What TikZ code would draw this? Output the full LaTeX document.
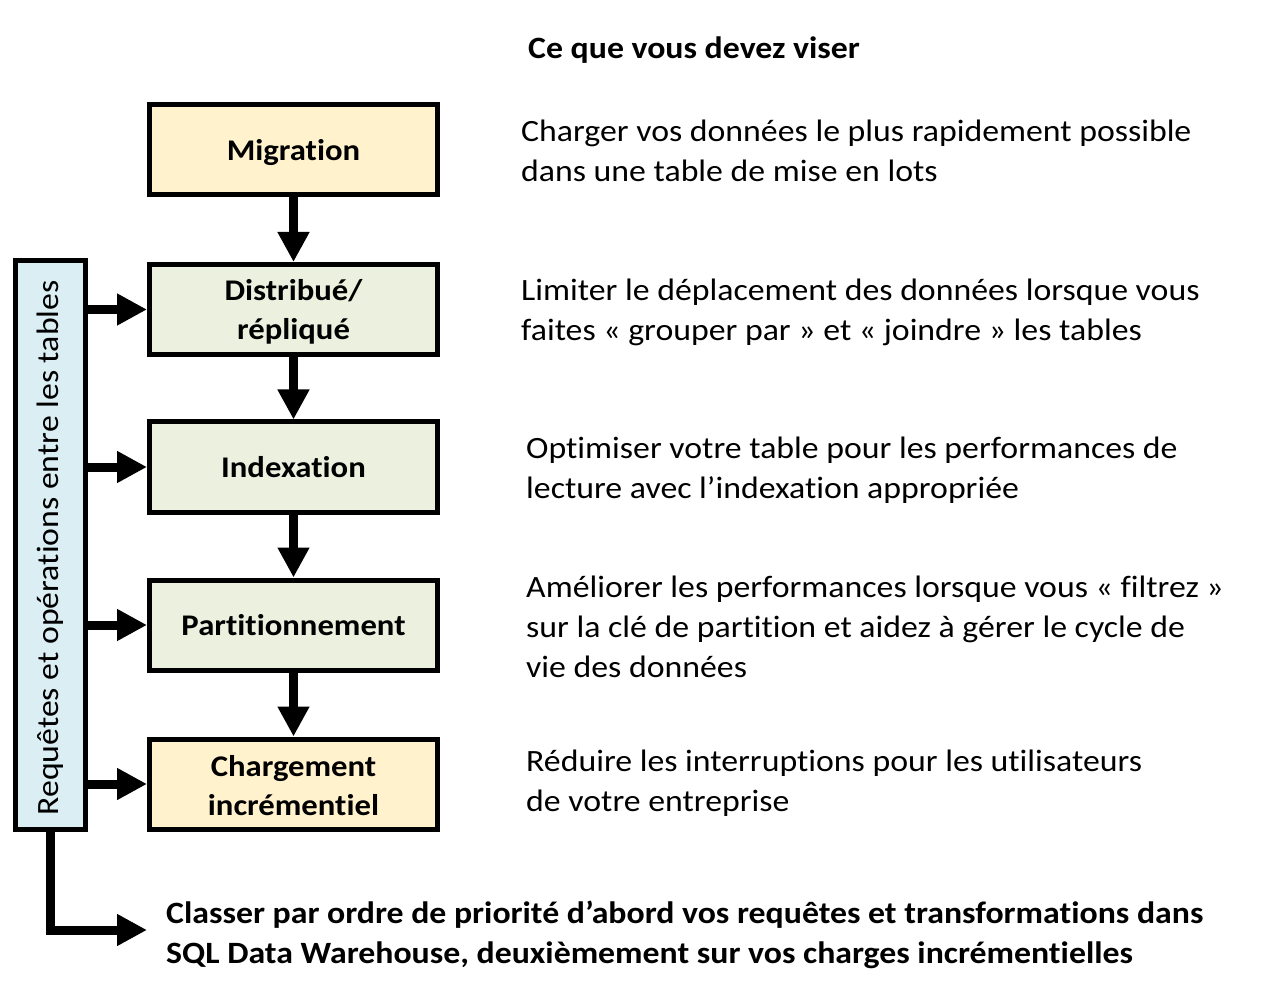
\documentclass[tikz,border=0pt]{standalone}
\usepackage{fontspec}
\setmainfont[FakeStretch=1.09,Ligatures={NoCommon,NoRare,NoContextual}]{Carlito}
\usetikzlibrary{arrows.meta}
\definecolor{yelfill}{HTML}{FFF2CC}
\definecolor{grnfill}{HTML}{EBF1DE}
\definecolor{blufill}{HTML}{DAEEF3}
\newcommand\para[1]{\begin{tabular}[t]{@{}l@{}}#1\end{tabular}}
\begin{document}
\begin{tikzpicture}[x=1pt,y=-1pt,
  stepbox/.style={draw=black, line width=5pt, minimum width=288pt, minimum height=90pt,
    inner sep=0pt, align=center, font=\bfseries\fontsize{30}{39}\selectfont},
  steptext/.style={inner sep=0pt, align=center, font=\bfseries\fontsize{30}{39}\selectfont},
  sidebox/.style={draw=black, line width=5pt, fill=blufill, minimum width=70pt, minimum height=569pt, inner sep=0pt},
  desc/.style={inner sep=0pt, anchor=base west, font=\fontsize{31}{40}\selectfont},
  arr/.style={line width=9pt, -{Triangle[length=30pt,width=30pt]}}
]
\useasboundingbox (0,0) rectangle (1278,1000);
\fill[white] (0,0) rectangle (1278,1000);

\node[inner sep=0pt, anchor=base west, font=\bfseries\fontsize{31}{40}\selectfont] (title) at (528,59) {Ce que vous devez viser};

\node[stepbox, fill=yelfill] (mig) at (293.5,150) {};
\node[stepbox, fill=grnfill] (dist) at (293.5,309.5) {};
\node[stepbox, fill=grnfill] (idx) at (293.5,467) {};
\node[stepbox, fill=grnfill] (part) at (293.5,625) {};
\node[stepbox, fill=yelfill] (charg) at (293.5,784) {};
\node[steptext] (migt) at ([yshift=-3pt]mig.center) {Migration};
\node[steptext] (distt) at ([yshift=-2pt]dist.center) {Distribué/\\répliqué};
\node[steptext] (idxt) at (idx.center) {Indexation};
\node[steptext] (partt) at (part.center) {Partitionnement};
\node[steptext] (chargt) at ([yshift=-2pt]charg.center) {Chargement\\incrémentiel};

\node[sidebox] (side) at (50.5,545) {};
\node[rotate=90, inner sep=0pt, font=\fontsize{31}{36}\selectfont] (sidetxt) at (50.5,548) {Requêtes et opérations entre les tables};

\draw[arr] (mig.south) -- (dist.north);
\draw[arr] (dist.south) -- (idx.north);
\draw[arr] (idx.south) -- (part.north);
\draw[arr] (part.south) -- (charg.north);

\draw[arr] (side.east |- dist.west) -- (dist.west);
\draw[arr] (side.east |- idx.west) -- (idx.west);
\draw[arr] (side.east |- part.west) -- (part.west);
\draw[arr] (side.east |- charg.west) -- (charg.west);

\coordinate (btip) at (147,930);
\draw[arr] (side.south) |- (btip);

\node[desc] (t1) at (521,142) {\para{Charger vos données le plus rapidement possible\\dans une table de mise en lots}};
\node[desc] (t2) at (521,301) {\para{Limiter le déplacement des données lorsque vous\\faites « grouper par » et « joindre » les tables}};
\node[desc] (t3) at (526,458) {\para{Optimiser votre table pour les performances de\\lecture avec l’indexation appropriée}};
\node[desc] (t4) at (526,597) {\para{Améliorer les performances lorsque vous « filtrez »\\sur la clé de partition et aidez à gérer le cycle de\\vie des données}};
\node[desc] (t5) at (526,771) {\para{Réduire les interruptions pour les utilisateurs\\de votre entreprise}};

\node[desc, font=\bfseries\fontsize{31}{40}\selectfont] (bottom) at (166,923) {\para{Classer par ordre de priorité d’abord vos requêtes et transformations dans\\SQL Data Warehouse, deuxièmement sur vos charges incrémentielles}};
\end{tikzpicture}
\end{document}
